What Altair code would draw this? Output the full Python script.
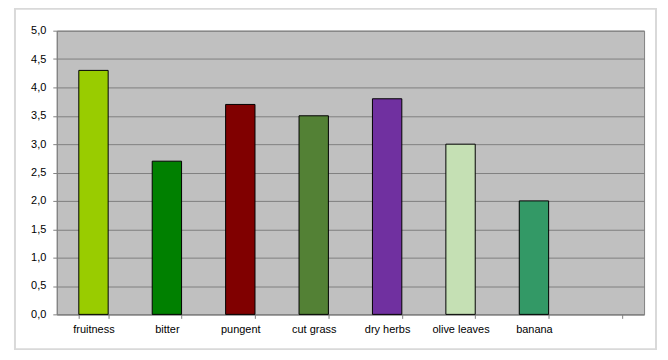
import altair as alt
import pandas as pd

categories = ["fruitness", "bitter", "pungent", "cut grass", "dry herbs", "olive leaves", "banana"]
values = [4.3, 2.7, 3.7, 3.5, 3.8, 3.0, 2.0]
colors = ["#99cc00", "#008000", "#800000", "#538135", "#7030a0", "#c5e0b4", "#339966"]
domain_slots = categories + [" "]
y_ticks = [0, 0.5, 1.0, 1.5, 2.0, 2.5, 3.0, 3.5, 4.0, 4.5, 5.0]

df = pd.DataFrame({"cat": categories, "val": values, "col": colors})

FONT = "Liberation Sans"

frame = alt.Chart(pd.DataFrame({"a": [0]})).mark_rect(
    fill=None, stroke="#d9d9d9", strokeWidth=2, clip=False
).encode(
    x=alt.value(-42), x2=alt.value(602), y=alt.value(-22), y2=alt.value(320)
)

bars = alt.Chart(df).mark_bar(stroke="#000000", strokeWidth=1).encode(
    x=alt.X(
        "cat:N",
        sort=None,
        scale=alt.Scale(domain=domain_slots, paddingInner=0.6, paddingOuter=0.3),
        axis=alt.Axis(
            title=None, labelAngle=0, tickBand="extent", tickSize=4,
            tickColor="#808080", domainColor="#808080", labelPadding=5,
            labelFont=FONT, labelFontSize=11, labelColor="#000000", grid=False,
        ),
    ),
    y=alt.Y(
        "val:Q",
        scale=alt.Scale(domain=[0, 5], nice=False),
        axis=alt.Axis(
            title=None, values=y_ticks, tickSize=4, tickColor="#808080",
            domainColor="#808080", gridColor="#7f7f7f", gridWidth=1,
            labelPadding=7, labelFont=FONT, labelFontSize=11, labelColor="#000000",
            labelExpr="replace(format(datum.value, '.1f'), '.', ',')",
        ),
    ),
    color=alt.Color("col:N", scale=None, legend=None),
)

chart = alt.layer(frame, bars).properties(
    width=590, height=285,
    autosize=alt.AutoSizeParams(type="none"),
    padding={"left": 49, "top": 22, "right": 16, "bottom": 35},
    background="#ffffff",
).configure_view(
    fill="#c0c0c0", stroke="#808080", strokeWidth=1
)

chart.save("out.html", embed_options={"renderer": "svg", "actions": False})
